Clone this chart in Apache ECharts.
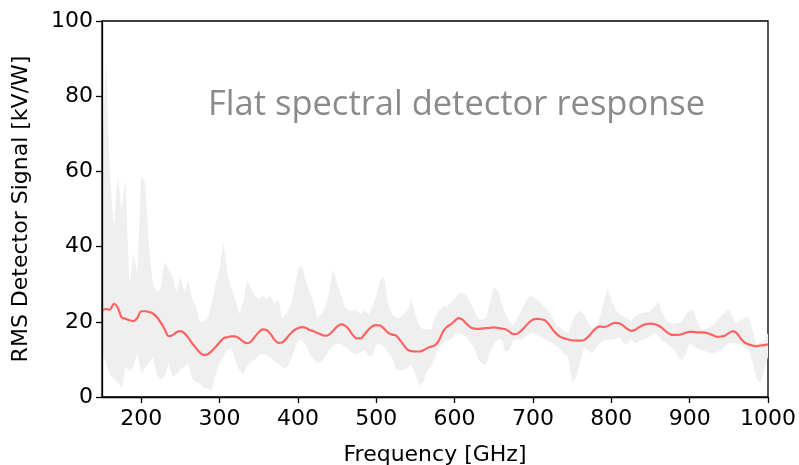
<!DOCTYPE html>
<html>
<head>
<meta charset="utf-8">
<script src="https://cdn.jsdelivr.net/npm/echarts@6/dist/echarts.min.js"></script>
<style>html,body{margin:0;padding:0;background:#fff}#c{width:799px;height:465px}</style>
</head>
<body>
<div id="c"></div>
<script>
// Frequency grid (GHz), 5 GHz step from 150 to 1000
const freqStart = 150, freqStep = 5;
// Smoothed RMS detector signal (kV/W)
const smoothSignal = [
23.0,23.4,23.2,24.8,23.8,21.2,20.8,20.4,20.2,21.0,
22.8,22.8,22.6,22.2,21.2,19.8,18.0,16.2,16.4,17.2,
17.5,17.0,15.8,14.3,13.0,11.8,11.2,11.4,12.2,13.3,
14.5,15.6,15.9,16.1,16.1,15.6,14.8,14.3,14.7,16.0,
17.2,18.0,17.8,16.8,15.3,14.4,14.5,15.5,16.7,17.7,
18.3,18.6,18.4,17.8,17.5,17.0,16.6,16.3,16.6,17.6,
18.7,19.3,19.0,18.0,16.5,15.6,15.6,16.6,17.9,18.8,
19.1,19.0,18.2,17.1,16.6,16.4,15.2,13.8,12.6,12.2,
12.1,12.1,12.4,13.0,13.4,13.8,15.0,17.3,18.6,19.3,
20.2,21.0,20.6,19.5,18.6,18.2,18.1,18.2,18.3,18.4,
18.5,18.4,18.2,18.0,17.4,16.7,16.8,17.6,18.7,19.8,
20.6,20.8,20.7,20.4,19.4,18.0,16.8,16.0,15.6,15.3,
15.1,15.0,15.0,15.1,15.9,17.1,18.2,18.8,18.6,18.8,
19.4,19.7,19.6,19.0,18.2,17.6,17.8,18.5,19.1,19.4,
19.5,19.4,19.0,18.3,17.4,16.7,16.5,16.5,16.7,17.1,
17.3,17.3,17.2,17.2,17.1,16.8,16.4,16.0,16.1,16.3,
17.0,17.5,17.0,15.6,14.5,14.0,13.7,13.5,13.7,13.8,
14.0];
// Raw signal envelope: upper edge
const rawUpper = [
62,90,60,45,59,50,58,30,38,33,
59,57,40,30,28,29,36,34,32,28,
32,28,31,26,24,20,20,21,25,30,
34,41,33,29,26,22,25,31,29,27,
26,27,26,27,25,26,21,22,24,28,
34,35,31,28,25,21,22,24,28,34,
30,27,24,23,23,23,22,23,22,24,
27,31,32,25,22,21,21,22,23,26,
22,19,18,18,18,21,23,24,24,25,
26,27.6,27.6,27,25,23,21,20.5,21,25,
29,28.5,25,22,20,19,21,23,25,26.7,
26.7,26,25,24,23,21,19,18.5,17.5,17,
20,22,23,22,20,18.5,18,21,25,28.8,
26,23.5,22,21.5,21,20,21.5,22,22.5,22.5,
23,24,25.3,22.5,20.5,19.6,19.5,19.6,20,22,
23,23,20,18,18,18.5,19,20.5,21.5,22.5,
23.5,21,19.5,20.5,21,21.4,18,14,14.5,15,
17];
// Raw signal envelope: lower edge
const rawLower = [
12,9,6,5,4,2.3,8,7,8,12,
6,8,9,10.5,6,4.5,5.5,9,5.5,6,
7.5,8,9,5,4,3.6,2.5,2.3,1.9,6,
9,10.7,12.5,13,10,7,6,8,9.5,10,
11,11.6,11,10.5,9.5,8.9,8,7.5,9.5,12,
15,15,14,11.5,10,9,9.5,10.7,12.5,13.5,
14.3,14,13.4,12.5,11.6,11.5,12,12.5,11,11,
14,14,13.4,12,10.5,7.5,7.2,7.2,8,8.5,
6,3,4,7,8,10.5,13,14.3,15,15.2,
16.5,17,16.5,16,14.5,13,10,9,8.5,12,
14,15.2,15.2,12,12.5,15,15.2,15.2,16,16.8,
17,16.5,16,15.5,14.8,14.3,13.5,12.5,11.5,10.7,
4,5,9,13,12.5,11.6,13,14.3,15,15.2,
15.2,15.5,16,14.5,13.8,15.5,14.3,14.8,15.2,15.5,
16.2,17,16.2,15,14.3,13.5,12.5,11,9.8,11.5,
14.3,13.5,12.8,12.5,12.2,11.8,11.6,12,12.5,13.5,
14.3,14.3,14.3,14,13.2,12.5,9.5,5,3.6,7.2,
10.7];
const xTicks = [200,300,400,500,600,700,800,900,1000];
const annotation = 'Flat spectral detector response';

const freqs = smoothSignal.map((_, i) => freqStart + i * freqStep);
const bandData = freqs.map((f, i) => [f, rawLower[i], rawUpper[i]]);
const smoothData = freqs.map((f, i) => [f, smoothSignal[i]]);

const font = 'DejaVu Sans';
const chart = echarts.init(document.getElementById('c'), null, {renderer: 'canvas'});
chart.setOption({
  animation: false,
  backgroundColor: '#fff',
  grid: {left: 102, right: 31, top: 21, bottom: 68, outerBoundsMode: 'none', containLabel: false,
    show: true, borderColor: '#000', borderWidth: 1.3, backgroundColor: 'transparent'},
  xAxis: {
    type: 'value', min: 150, max: 1000, z: 10,
    name: 'Frequency [GHz]', nameLocation: 'middle', nameGap: 47,
    nameTextStyle: {fontFamily: font, fontSize: 22, color: '#000'},
    axisLine: {show: true, lineStyle: {color: '#000', width: 1.3}},
    axisTick: {show: true, length: 6, lineStyle: {color: '#000', width: 1.3}, customValues: xTicks},
    axisLabel: {fontFamily: font, fontSize: 22, color: '#000', margin: 11, customValues: xTicks,
      formatter: v => String(v)},
    splitLine: {show: false}
  },
  yAxis: {
    type: 'value', min: 0, max: 100, interval: 20, z: 10,
    name: 'RMS Detector Signal [kV/W]', nameLocation: 'middle', nameGap: 70, nameRotate: 90,
    nameTextStyle: {fontFamily: font, fontSize: 22, color: '#000'},
    axisLine: {show: true, lineStyle: {color: '#000', width: 1.3}},
    axisTick: {show: true, length: 6, lineStyle: {color: '#000', width: 1.3}},
    axisLabel: {fontFamily: font, fontSize: 22, color: '#000', margin: 9},
    splitLine: {show: false}
  },
  graphic: [{
    type: 'text', left: 208, top: 88, z: 100,
    style: {text: annotation, font: '34.5px "Open Sans"', fill: '#8a8a8a'}
  }],
  series: [
    {
      type: 'custom', data: bandData, silent: true, z: 1,
      encode: {x: 0, y: [1, 2]},
      renderItem: function (params, api) {
        if (params.dataIndex !== 0) return null;
        const pts = [];
        for (let i = 0; i < bandData.length; i++) pts.push(api.coord([bandData[i][0], bandData[i][2]]));
        for (let i = bandData.length - 1; i >= 0; i--) pts.push(api.coord([bandData[i][0], bandData[i][1]]));
        return {type: 'polygon', shape: {points: pts}, style: {fill: '#efefef', stroke: null}};
      }
    },
    {type: 'line', data: smoothData, symbol: 'none', smooth: 0.3,
     lineStyle: {color: '#ff6262', width: 2.2}, z: 5}
  ]
});
</script>
</body>
</html>
